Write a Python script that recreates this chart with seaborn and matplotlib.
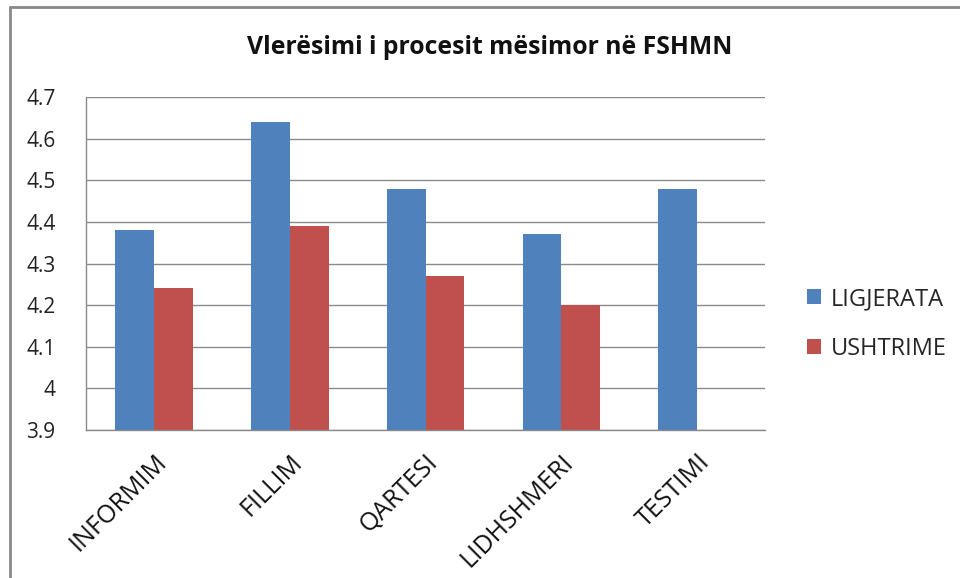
import matplotlib
matplotlib.use("Agg")
import matplotlib.pyplot as plt
import seaborn as sns
import pandas as pd
import numpy as np
from matplotlib.lines import Line2D
from matplotlib.patches import Patch

categories = ["INFORMIM", "FILLIM", "QARTESI", "LIDHSHMERI", "TESTIMI"]
ligjerata = [4.38, 4.64, 4.48, 4.37, 4.48]
ushtrime = [4.24, 4.39, 4.27, 4.20, np.nan]
series_names = ["LIGJERATA", "USHTRIME"]
colors = ["#4F81BD", "#C0504D"]
y_base = 3.9
yticks = [3.9, 4.0, 4.1, 4.2, 4.3, 4.4, 4.5, 4.6, 4.7]
ytick_labels = ["3.9", "4", "4.1", "4.2", "4.3", "4.4", "4.5", "4.6", "4.7"]
title = "Vlerësimi i procesit mësimor në FSHMN"

df = pd.DataFrame({
    "cat": categories * 2,
    "series": [series_names[0]] * len(categories) + [series_names[1]] * len(categories),
    "value": ligjerata + ushtrime,
})

sns.set_style("white")
plt.rcParams["font.family"] = ["Open Sans", "DejaVu Sans"]

fig = plt.figure(figsize=(9.6, 5.78), dpi=100)
ax = fig.add_axes([86/960, (578-430)/578, (765-86)/960, (430-97)/578])

# bars drawn from the axis floor (3.9), as in the original Excel chart
sns.barplot(data=df.assign(value=df["value"] - y_base), x="cat", y="value", hue="series",
            palette=colors, width=2/3.5, ax=ax, legend=False, saturation=1,
            edgecolor="none", bottom=y_base)

ax.set_ylim(3.9, 4.7)
ax.set_xlim(-0.5, len(categories) - 0.5)
ax.set_yticks(yticks)
ax.set_yticklabels(ytick_labels, fontsize=15, color="#222222")
ax.set_xticks(range(len(categories)))
ax.set_xticklabels(categories, rotation=45, ha="right", rotation_mode="anchor",
                   fontsize=18, color="#111111")
ax.tick_params(axis="y", length=0, pad=22)
ax.tick_params(axis="x", length=0, pad=14)
ax.set_xlabel("")
ax.set_ylabel("")
ax.yaxis.grid(True, color="#8a8a8a", linewidth=1.0)
ax.set_axisbelow(True)
for s in ["top", "right"]:
    ax.spines[s].set_visible(False)
for s in ["left", "bottom"]:
    ax.spines[s].set_color("#8a8a8a")
    ax.spines[s].set_linewidth(1.0)

fig.text(490/960, 1 - 47/578, title, ha="center", va="center",
         fontsize=17.8, fontweight="bold", color="#111111")

handles = [Patch(facecolor=c, edgecolor="none") for c in colors]
fig.legend(handles, series_names, loc="center left",
           bbox_to_anchor=(786/960, 1 - 324/578), frameon=False,
           fontsize=17, handlelength=0.6, handleheight=0.6,
           labelspacing=1.1, handletextpad=0.4)

# outer frame (top and left visible)
fig.add_artist(Line2D([10/960, 10/960], [0, 1 - 7/578], transform=fig.transFigure,
                      color="#8a8a8a", linewidth=2))
fig.add_artist(Line2D([10/960, 1], [1 - 7/578, 1 - 7/578], transform=fig.transFigure,
                      color="#8a8a8a", linewidth=2))

fig.savefig("out.png", dpi=100)
